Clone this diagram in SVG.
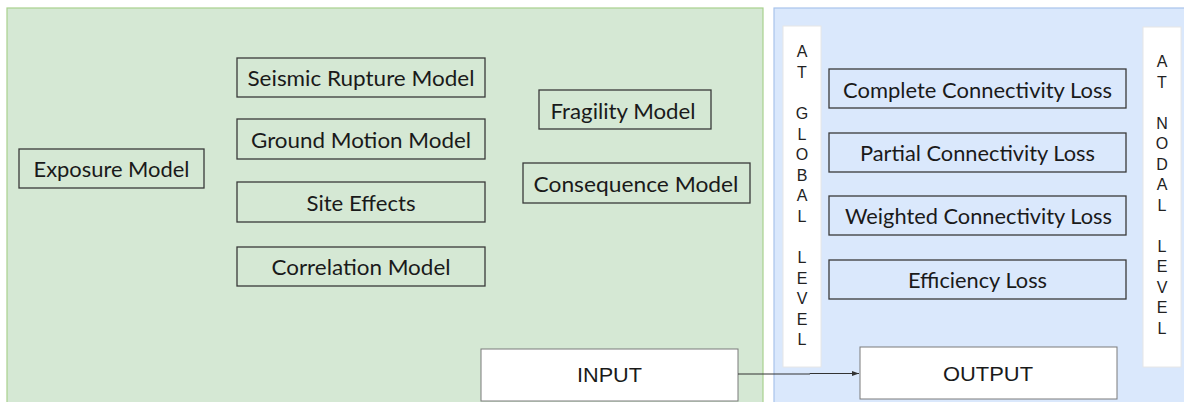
<svg xmlns="http://www.w3.org/2000/svg" width="1184" height="402" viewBox="0 0 1184 402">
<style>
.bg{fill:#ffffff}
.gpanel{fill:#d5e8d4;stroke:#a9d18e;stroke-width:1.2}
.bpanel{fill:#dae8fc;stroke:#a9c4eb;stroke-width:1.2}
.gbox{fill:#d5e8d4;stroke:#3a3a3a;stroke-width:1.3}
.bbox{fill:#dae8fc;stroke:#3a3a3a;stroke-width:1.3}
.wbox{fill:#ffffff;stroke:#7a7a7a;stroke-width:1}
.strip{fill:#ffffff;stroke:#e6e6e6;stroke-width:1}
.t{font-family:Lato,"Liberation Sans",sans-serif;font-size:21px;fill:#1a1a1a;text-anchor:middle}
.a{font-family:"Liberation Sans",Arial,sans-serif;font-size:21px;fill:#1a1a1a;text-anchor:middle}
.v{font-family:"Liberation Sans",Arial,sans-serif;font-size:16px;fill:#222;text-anchor:middle}
.conn{stroke:#333;stroke-width:1;fill:none}
</style>
<defs>
<marker id="arr" markerWidth="8" markerHeight="8" refX="7" refY="4" orient="auto" markerUnits="userSpaceOnUse">
<path d="M0,1.5 L7,4 L0,6.5 Z" fill="#333"/>
</marker>
</defs>
<rect class="bg" x="0" y="0" width="1184" height="402"/>
<g id="input-panel">
<rect class="gpanel" x="7" y="8" width="756" height="400"/>
</g>
<g id="output-panel">
<rect class="bpanel" x="774" y="8" width="414" height="400"/>
</g>
<g id="exposure-model">
<rect class="gbox" x="19" y="149" width="185" height="39"/>
<text class="t" x="111.5" y="176.5" textLength="156" lengthAdjust="spacingAndGlyphs">Exposure Model</text>
</g>
<g id="seismic-rupture-model">
<rect class="gbox" x="237" y="58" width="248" height="39"/>
<text class="t" x="361" y="85.5" textLength="227" lengthAdjust="spacingAndGlyphs">Seismic Rupture Model</text>
</g>
<g id="ground-motion-model">
<rect class="gbox" x="237" y="119" width="248" height="40"/>
<text class="t" x="361" y="147.5" textLength="220" lengthAdjust="spacingAndGlyphs">Ground Motion Model</text>
</g>
<g id="site-effects">
<rect class="gbox" x="237" y="182" width="248" height="40"/>
<text class="t" x="361" y="210.5" textLength="109" lengthAdjust="spacingAndGlyphs">Site Effects</text>
</g>
<g id="correlation-model">
<rect class="gbox" x="237" y="247" width="248" height="39"/>
<text class="t" x="361" y="274.5" textLength="179" lengthAdjust="spacingAndGlyphs">Correlation Model</text>
</g>
<g id="fragility-model">
<rect class="gbox" x="539" y="90" width="172" height="39"/>
<text class="t" x="623" y="118.5" textLength="145" lengthAdjust="spacingAndGlyphs">Fragility Model</text>
</g>
<g id="consequence-model">
<rect class="gbox" x="523" y="163" width="227" height="40"/>
<text class="t" x="636" y="191.5" textLength="205" lengthAdjust="spacingAndGlyphs">Consequence  Model</text>
</g>
<g id="input">
<rect class="wbox" x="481" y="349" width="257" height="52"/>
<text class="a" x="609.5" y="382" textLength="65" lengthAdjust="spacingAndGlyphs">INPUT</text>
</g>
<g id="global-level">
<rect class="strip" x="783" y="26" width="38" height="341"/>
<text class="v" x="802" y="57">A</text>
<text class="v" x="802" y="77.6">T</text>
<text class="v" x="802" y="119">G</text>
<text class="v" x="802" y="139.5">L</text>
<text class="v" x="802" y="160">O</text>
<text class="v" x="802" y="180.7">B</text>
<text class="v" x="802" y="201">A</text>
<text class="v" x="802" y="222">L</text>
<text class="v" x="802" y="263">L</text>
<text class="v" x="802" y="283.5">E</text>
<text class="v" x="802" y="304">V</text>
<text class="v" x="802" y="324.5">E</text>
<text class="v" x="802" y="345">L</text>
</g>
<g id="nodal-level">
<rect class="strip" x="1143" y="27" width="38" height="340"/>
<text class="v" x="1162" y="67">A</text>
<text class="v" x="1162" y="87.5">T</text>
<text class="v" x="1162" y="128.5">N</text>
<text class="v" x="1162" y="149">O</text>
<text class="v" x="1162" y="169.5">D</text>
<text class="v" x="1162" y="190">A</text>
<text class="v" x="1162" y="210.5">L</text>
<text class="v" x="1162" y="251.5">L</text>
<text class="v" x="1162" y="272">E</text>
<text class="v" x="1162" y="292.5">V</text>
<text class="v" x="1162" y="313">E</text>
<text class="v" x="1162" y="333.5">L</text>
</g>
<g id="complete-connectivity-loss">
<rect class="bbox" x="829" y="69" width="297" height="39"/>
<text class="t" x="977.5" y="97.5" textLength="269" lengthAdjust="spacingAndGlyphs">Complete Connectivity Loss</text>
</g>
<g id="partial-connectivity-loss">
<rect class="bbox" x="829" y="133" width="297" height="39"/>
<text class="t" x="977.5" y="160.5" textLength="235" lengthAdjust="spacingAndGlyphs">Partial Connectivity Loss</text>
</g>
<g id="weighted-connectivity-loss">
<rect class="bbox" x="829" y="196" width="297" height="39"/>
<text class="t" x="978.5" y="223.5" textLength="267" lengthAdjust="spacingAndGlyphs">Weighted Connectivity Loss</text>
</g>
<g id="efficiency-loss">
<rect class="bbox" x="829" y="260" width="297" height="39"/>
<text class="t" x="977.5" y="287.5" textLength="139" lengthAdjust="spacingAndGlyphs">Efficiency Loss</text>
</g>
<g id="output">
<rect class="wbox" x="860" y="347" width="257" height="52"/>
<text class="a" x="988" y="381" textLength="90" lengthAdjust="spacingAndGlyphs">OUTPUT</text>
</g>
<g id="connectors">
<path class="conn" d="M738,374 L810,374 L810,373.5 L859,373.5" marker-end="url(#arr)"/>
</g>
</svg>
